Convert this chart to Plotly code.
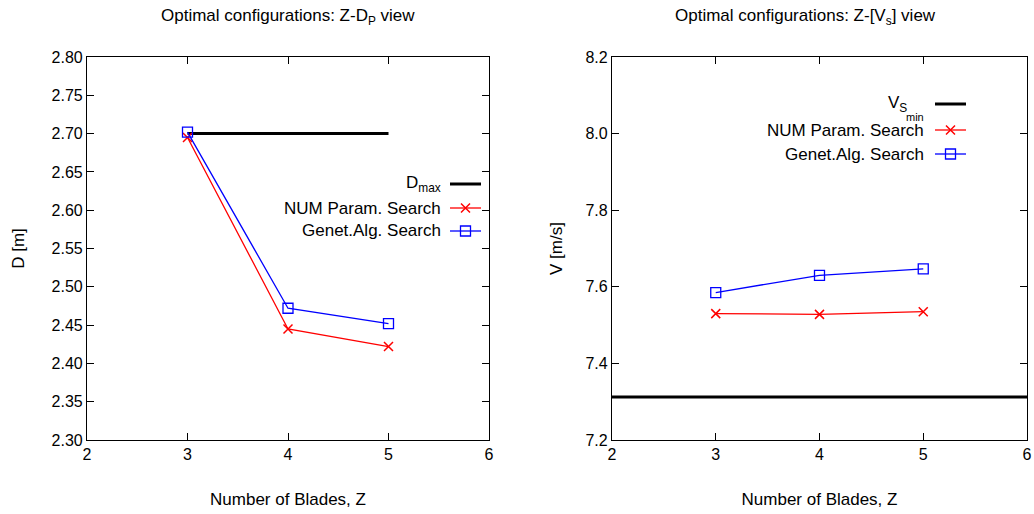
import plotly.graph_objects as go

blades = [3, 4, 5]
d_num = [2.695, 2.445, 2.422]
d_gen = [2.702, 2.472, 2.452]
d_max = 2.70
dmax_x = [3, 5]

v_num = [7.530, 7.528, 7.535]
v_gen = [7.585, 7.630, 7.647]
vs_min = 7.312
vs_x = [2, 6]

x_ticks = [2, 3, 4, 5, 6]
d_ticks = [2.30, 2.35, 2.40, 2.45, 2.50, 2.55, 2.60, 2.65, 2.70, 2.75, 2.80]
v_ticks = [7.2, 7.4, 7.6, 7.8, 8.0, 8.2]

FONT = "Liberation Sans, Arial, sans-serif"
W, H = 1034, 514
RED = "#ff0000"
BLUE = "#0000ff"

def px(x):
    return x / W

def py(y):
    return 1 - y / H

fig = go.Figure()

red_marker = dict(symbol="x-thin-open", size=9, color=RED, line=dict(color=RED, width=1.5))
blue_marker = dict(symbol="square-open", size=10, color=BLUE, line=dict(color=BLUE, width=1.3))

# Left panel
fig.add_trace(go.Scatter(x=dmax_x, y=[d_max, d_max], mode="lines",
                         line=dict(color="black", width=3), xaxis="x", yaxis="y", showlegend=False))
fig.add_trace(go.Scatter(x=blades, y=d_num, mode="lines+markers", line=dict(color=RED, width=1.3),
                         marker=red_marker, xaxis="x", yaxis="y", showlegend=False))
fig.add_trace(go.Scatter(x=blades, y=d_gen, mode="lines+markers", line=dict(color=BLUE, width=1.3),
                         marker=blue_marker, xaxis="x", yaxis="y", showlegend=False))

# Right panel
fig.add_trace(go.Scatter(x=vs_x, y=[vs_min, vs_min], mode="lines",
                         line=dict(color="black", width=3), xaxis="x2", yaxis="y2", showlegend=False))
fig.add_trace(go.Scatter(x=blades, y=v_num, mode="lines+markers", line=dict(color=RED, width=1.3),
                         marker=red_marker, xaxis="x2", yaxis="y2", showlegend=False))
fig.add_trace(go.Scatter(x=blades, y=v_gen, mode="lines+markers", line=dict(color=BLUE, width=1.3),
                         marker=blue_marker, xaxis="x2", yaxis="y2", showlegend=False))

# Manual legends (text left, sample right, as in the original)
legend_left = {"names": ["D<sub>max</sub>", "NUM Param. Search", "Genet.Alg. Search"],
               "ys": [184, 208, 231], "text_x": 443, "sx0": 450, "sx1": 481}
legend_right = {"names": [None, "NUM Param. Search", "Genet.Alg. Search"],
                "ys": [104, 130, 154], "text_x": 926, "sx0": 935, "sx1": 966}

styles = [
    (dict(color="black", width=3), None),
    (dict(color=RED, width=1.3), red_marker),
    (dict(color=BLUE, width=1.3), blue_marker),
]

annotations = []
layout_axes = {}
for i, lg in enumerate([legend_left, legend_right]):
    n = 3 + i
    top, bot = lg["ys"][0] - 12, lg["ys"][-1] + 12
    layout_axes[f"xaxis{n}"] = dict(domain=[px(lg["sx0"]), px(lg["sx1"])], range=[0, 1],
                                    visible=False, anchor=f"y{n}", automargin=False)
    layout_axes[f"yaxis{n}"] = dict(domain=[py(bot), py(top)], range=[-bot, -top],
                                    visible=False, anchor=f"x{n}", automargin=False)
    for name, yy, (ln, mk) in zip(lg["names"], lg["ys"], styles):
        fig.add_trace(go.Scatter(x=[0, 1], y=[-yy, -yy], mode="lines", line=ln,
                                 xaxis=f"x{n}", yaxis=f"y{n}", showlegend=False, hoverinfo="skip"))
        if mk:
            fig.add_trace(go.Scatter(x=[0.5], y=[-yy], mode="markers", marker=mk,
                                     xaxis=f"x{n}", yaxis=f"y{n}", showlegend=False, hoverinfo="skip"))
        if name:
            annotations.append(dict(x=px(lg["text_x"]), y=py(yy), xref="paper", yref="paper", text=name,
                                    showarrow=False, xanchor="right", yanchor="middle",
                                    font=dict(family=FONT, size=17, color="black")))

# V_S_min label with a second-level subscript
annotations.append(dict(x=px(909), y=py(104), xref="paper", yref="paper", text="V<sub>S</sub>",
                        showarrow=False, xanchor="right", yanchor="middle",
                        font=dict(family=FONT, size=17, color="black")))
annotations.append(dict(x=px(926), y=py(117), xref="paper", yref="paper", text="min",
                        showarrow=False, xanchor="right", yanchor="middle",
                        font=dict(family=FONT, size=11, color="black")))

# Titles
annotations.append(dict(x=px(288), y=py(17), xref="paper", yref="paper",
                        text="Optimal configurations: Z-D<sub>P</sub> view", showarrow=False,
                        xanchor="center", yanchor="middle", font=dict(family=FONT, size=17, color="black")))
annotations.append(dict(x=px(805), y=py(17), xref="paper", yref="paper",
                        text="Optimal configurations: Z-[V<sub>s</sub>] view", showarrow=False,
                        xanchor="center", yanchor="middle", font=dict(family=FONT, size=17, color="black")))

axis_common = dict(showgrid=False, zeroline=False, showline=True, linecolor="black", linewidth=1.2,
                   mirror="ticks", ticks="inside", ticklen=7, tickcolor="black", automargin=False,
                   tickfont=dict(family=FONT, size=16, color="black"))
title_font = dict(family=FONT, size=17, color="black")

fig.update_layout(
    width=W, height=H,
    margin=dict(l=0, r=0, t=0, b=0),
    paper_bgcolor="white", plot_bgcolor="white",
    xaxis=dict(domain=[px(87), px(489)], range=[2, 6], tickvals=x_ticks, anchor="y",
               title=dict(text="Number of Blades, Z", font=title_font, standoff=30), **axis_common),
    yaxis=dict(domain=[py(440), py(57)], range=[2.30, 2.80], tickvals=d_ticks, tickformat=".2f", anchor="x",
               title=dict(text="D [m]", font=title_font, standoff=22), **axis_common),
    xaxis2=dict(domain=[px(612), px(1027)], range=[2, 6], tickvals=x_ticks, anchor="y2",
                title=dict(text="Number of Blades, Z", font=title_font, standoff=30), **axis_common),
    yaxis2=dict(domain=[py(440), py(57)], range=[7.2, 8.2], tickvals=v_ticks, tickformat=".1f", anchor="x2",
                title=dict(text="V [m/s]", font=title_font, standoff=18), **axis_common),
    annotations=annotations,
    **layout_axes,
)

fig.write_html("out.html")
